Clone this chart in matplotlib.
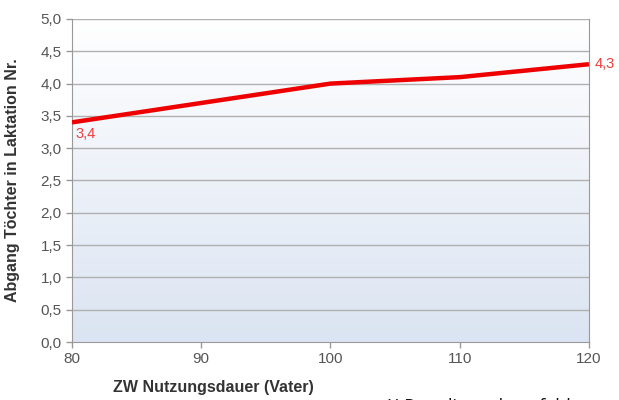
import matplotlib.pyplot as plt
import numpy as np
from matplotlib.colors import LinearSegmentedColormap

# data
xNum = [80, 100, 110, 120]
yNum = [3.4, 4.0, 4.1, 4.3]
xTicks = [80, 90, 100, 110, 120]
yTicks = [0.0, 0.5, 1.0, 1.5, 2.0, 2.5, 3.0, 3.5, 4.0, 4.5, 5.0]

plt.rcParams['font.family'] = ['Liberation Sans', 'DejaVu Sans']
fig = plt.figure(figsize=(6.19, 4.0), dpi=100)
ax = fig.add_axes([0.1163, 0.145, 0.8352, 0.8075])

# gradient background
cmap = LinearSegmentedColormap.from_list('bg', ['#dbe4f2', '#ffffff'])
grad = np.linspace(0, 1, 256).reshape(-1, 1)
ax.imshow(grad, extent=[80, 120, 0, 5], origin='lower', aspect='auto', cmap=cmap, zorder=0)

for y in yTicks[1:]:
    ax.axhline(y, color='#b0b0b0', lw=1.0, zorder=1)

ax.plot(xNum, yNum, color='#ee0000', lw=3.2, zorder=3, solid_capstyle='butt')
ax.text(xNum[0] + 0.25, yNum[0] - 0.07, '3,4', color='#f03c3c', fontsize=10.5, va='top', ha='left')
ax.text(xNum[-1] + 0.4, yNum[-1], '4,3', color='#f03c3c', fontsize=10.5, va='center', ha='left')

ax.set_xlim(80, 120)
ax.set_ylim(0, 5)
ax.set_xticks(xTicks)
ax.set_yticks(yTicks)
ax.set_xticklabels([str(v) for v in xTicks])
ax.set_yticklabels([('%.1f' % v).replace('.', ',') for v in yTicks])
ax.tick_params(colors='#999999', labelcolor='#555555', labelsize=11, length=4, width=1)
for s in ['left', 'bottom', 'right']:
    ax.spines[s].set_color('#999999')
ax.spines['top'].set_visible(False)

ax.set_ylabel('Abgang Töchter in Laktation Nr.', fontsize=11.5, fontweight='bold', color='#333333')
ax.yaxis.set_label_coords(-0.1, 0.5)
fig.text(0.183, 0.032, 'ZW Nutzungsdauer (Vater)', fontsize=11.5, fontweight='bold', color='#333333', ha='left', va='center')
fig.text(0.627, -0.018, 'X-Pop die mehr erfahl', fontsize=13, color='#111111', ha='left', va='center',
         family=['Open Sans', 'DejaVu Sans'])

fig.savefig('out.png', dpi=100)
